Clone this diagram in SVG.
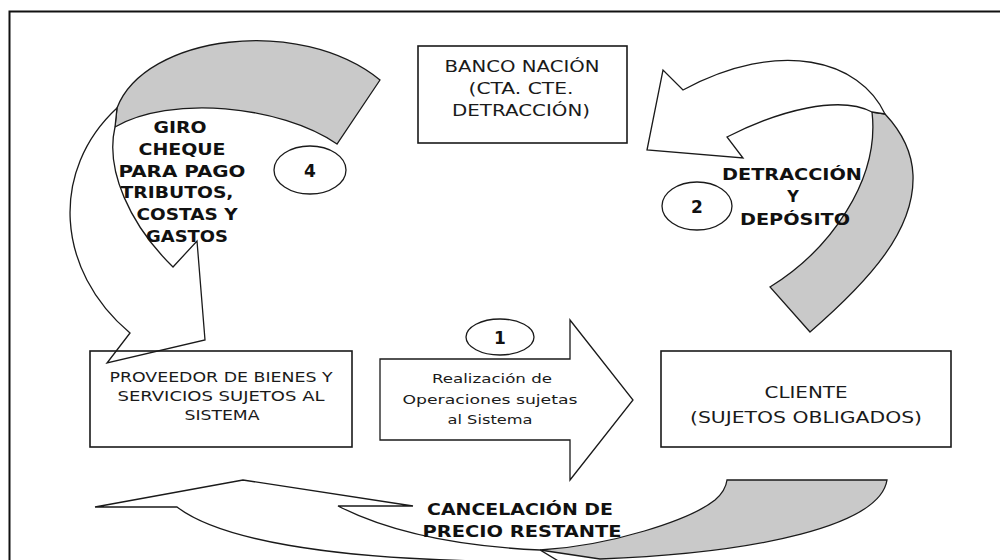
<svg xmlns="http://www.w3.org/2000/svg" width="1000" height="560" viewBox="0 0 1000 560">
<style>
  .ln{stroke:#1a1a1a;stroke-width:1.3;stroke-linejoin:miter}
  .wf{fill:#ffffff}
  .gf{fill:#c9c9c9}
  .box{fill:none;stroke:#1a1a1a;stroke-width:1.6}
  .badge{fill:#ffffff;stroke:#1a1a1a;stroke-width:1.3}
  .t{font-family:"DejaVu Sans","Liberation Sans",sans-serif;fill:#1a1a1a;text-anchor:middle}
  .b{font-family:"DejaVu Sans","Liberation Sans",sans-serif;font-weight:bold;fill:#111;text-anchor:middle}
</style>
<rect x="0" y="0" width="1000" height="560" fill="#ffffff"/>
<path d="M9.5,560 V11.5 H1000" fill="none" stroke="#111" stroke-width="2"/>

<g id="connectors">
  <g id="arrow-giro">
    <path class="gf ln" d="M117,108 C145,35 300,15 380,80 L337,144 C280,105 170,95 115,127 Z"/>
    <path class="wf ln" d="M117,108 C50,170 55,270 130,333 L107,363 L205,340 L197,241 L173,267 C130,225 105,170 115,127 Z"/>
    <g class="b" font-size="16">
      <text x="180" y="133" textLength="53" lengthAdjust="spacingAndGlyphs">GIRO</text>
      <text x="182" y="155" textLength="87" lengthAdjust="spacingAndGlyphs">CHEQUE</text>
      <text x="182" y="177" textLength="127" lengthAdjust="spacingAndGlyphs">PARA PAGO</text>
      <text x="177" y="198" textLength="113" lengthAdjust="spacingAndGlyphs">TRIBUTOS,</text>
      <text x="187" y="220" textLength="101" lengthAdjust="spacingAndGlyphs">COSTAS Y</text>
      <text x="187" y="242" textLength="82" lengthAdjust="spacingAndGlyphs">GASTOS</text>
    </g>
  </g>
  <g id="arrow-detraccion">
    <path class="gf ln" d="M872,112 C880,180 830,250 770,287 L810,332 C870,280 915,230 913,175 C912,150 900,130 885,114 Z"/>
    <path class="wf ln" d="M885,114 C860,60 780,38 683,90 L663,70 L647,150 L743,158 L727,137 C780,110 840,95 872,112 Z"/>
    <g class="b" font-size="16">
      <text x="792" y="180" textLength="140" lengthAdjust="spacingAndGlyphs">DETRACCIÓN</text>
      <text x="793" y="202">Y</text>
      <text x="795" y="225" textLength="110" lengthAdjust="spacingAndGlyphs">DEPÓSITO</text>
    </g>
  </g>
  <g id="arrow-operaciones">
    <path class="wf ln" d="M380,359 L570,359 L570,320 L633,400 L570,480 L570,440 L380,440 Z"/>
    <g class="t" font-size="12">
      <text x="492" y="383" textLength="120" lengthAdjust="spacingAndGlyphs">Realización de</text>
      <text x="490" y="404" textLength="175" lengthAdjust="spacingAndGlyphs">Operaciones sujetas</text>
      <text x="490" y="424" textLength="85" lengthAdjust="spacingAndGlyphs">al Sistema</text>
    </g>
  </g>
  <g id="arrow-cancelacion">
    <path class="gf ln" d="M727,480 L887,480 C880,525 760,553 600,559 L540,550 C610,546 690,520 715,500 C722,494 726,488 727,480 Z"/>
    <path class="wf ln" d="M95,507 L243,480 L413,506 L338,506 C385,530 450,546 540,550 L560,562 L480,561 C330,558 220,540 177,507 Z"/>
    <g class="b" font-size="16">
      <text x="520" y="515" textLength="186" lengthAdjust="spacingAndGlyphs">CANCELACIÓN DE</text>
      <text x="522" y="537" textLength="199" lengthAdjust="spacingAndGlyphs">PRECIO RESTANTE</text>
    </g>
  </g>
</g>

<g id="badge-1">
  <ellipse class="badge" cx="500" cy="337" rx="34" ry="18"/>
  <text class="b" x="500" y="344" font-size="17">1</text>
</g>
<g id="badge-2">
  <ellipse class="badge" cx="697" cy="206" rx="35" ry="24"/>
  <text class="b" x="697" y="213" font-size="17">2</text>
</g>
<g id="badge-4">
  <ellipse class="badge" cx="310" cy="170" rx="36" ry="24"/>
  <text class="b" x="310" y="177" font-size="17">4</text>
</g>

<g id="banco">
  <rect class="box" x="418" y="46" width="209" height="97"/>
  <g class="t" font-size="15">
    <text x="522" y="72" textLength="155" lengthAdjust="spacingAndGlyphs">BANCO NACIÓN</text>
    <text x="521" y="94" textLength="105" lengthAdjust="spacingAndGlyphs">(CTA. CTE.</text>
    <text x="521" y="116" textLength="138" lengthAdjust="spacingAndGlyphs">DETRACCIÓN)</text>
  </g>
</g>

<g id="proveedor">
  <rect class="box" x="90" y="351" width="262" height="96"/>
  <g class="t" font-size="14">
    <text x="221" y="382" textLength="223" lengthAdjust="spacingAndGlyphs">PROVEEDOR DE BIENES Y</text>
    <text x="221" y="401" textLength="207" lengthAdjust="spacingAndGlyphs">SERVICIOS SUJETOS AL</text>
    <text x="222" y="420" textLength="75" lengthAdjust="spacingAndGlyphs">SISTEMA</text>
  </g>
</g>

<g id="cliente">
  <rect class="box" x="661" y="351" width="290" height="96"/>
  <g class="t" font-size="16">
    <text x="806" y="398" textLength="83" lengthAdjust="spacingAndGlyphs">CLIENTE</text>
    <text x="806" y="423" textLength="232" lengthAdjust="spacingAndGlyphs">(SUJETOS OBLIGADOS)</text>
  </g>
</g>
</svg>
